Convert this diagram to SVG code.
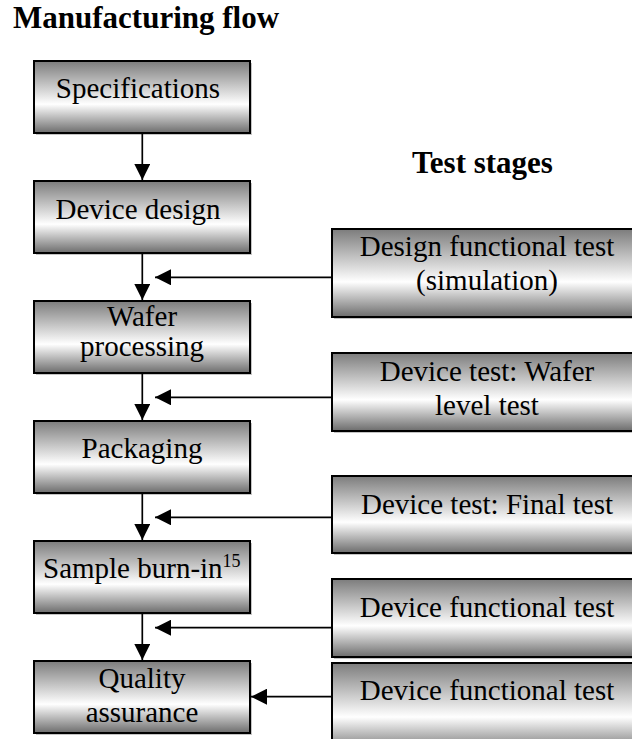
<svg xmlns="http://www.w3.org/2000/svg" width="632" height="739" viewBox="0 0 632 739">
<style>
.box{stroke:#000;stroke-width:2;fill:url(#g)}
.sh{fill:#c4c4c4}
text{font-family:'Liberation Serif','Times New Roman',Times,serif}
.t{font-size:29px;fill:#000;text-anchor:middle}
.h{font-size:31px;font-weight:bold;fill:#000}
.c{stroke:#000;stroke-width:1.7;fill:none;marker-end:url(#ah)}
</style>
<defs>
<linearGradient id="g" x1="0" y1="0" x2="0" y2="1">
<stop offset="0" stop-color="#7c7c7c"/>
<stop offset="0.6" stop-color="#ffffff"/>
<stop offset="1" stop-color="#6c6c6c"/>
</linearGradient>
<marker id="ah" markerUnits="userSpaceOnUse" markerWidth="16" markerHeight="16" viewBox="0 0 15 15" refX="15" refY="7.5" orient="auto">
<path d="M0,0 L15,7.5 L0,15 z" fill="#000"/>
</marker>
</defs>
<text class="h" x="13" y="28">Manufacturing flow</text>
<text class="h" x="412" y="173">Test stages</text>

<g id="specifications">
<rect class="sh" x="36" y="63" width="216" height="72"/>
<rect class="box" x="34" y="61" width="216" height="72"/>
<text class="t" x="138" y="98">Specifications</text>
</g>
<g id="device-design">
<rect class="sh" x="36" y="183" width="216" height="72"/>
<rect class="box" x="34" y="181" width="216" height="72"/>
<text class="t" x="138" y="219">Device design</text>
</g>
<g id="wafer-processing">
<rect class="sh" x="36" y="303" width="216" height="72"/>
<rect class="box" x="34" y="301" width="216" height="72"/>
<text class="t" x="142" y="326">Wafer</text>
<text class="t" x="142" y="356">processing</text>
</g>
<g id="packaging">
<rect class="sh" x="36" y="423" width="216" height="72"/>
<rect class="box" x="34" y="421" width="216" height="72"/>
<text class="t" x="142" y="458">Packaging</text>
</g>
<g id="sample-burn-in">
<rect class="sh" x="36" y="543" width="216" height="72"/>
<rect class="box" x="34" y="541" width="216" height="72"/>
<text class="t" x="43" y="578" style="text-anchor:start">Sample burn-in<tspan dy="-11" font-size="18">15</tspan></text>
</g>
<g id="quality-assurance">
<rect class="sh" x="36" y="663" width="216" height="72"/>
<rect class="box" x="34" y="661" width="216" height="72"/>
<text class="t" x="142" y="688">Quality</text>
<text class="t" x="142" y="722">assurance</text>
</g>

<g id="design-functional-test">
<rect class="sh" x="334" y="231" width="320" height="88"/>
<rect class="box" x="332" y="229" width="320" height="88"/>
<text class="t" x="487" y="256">Design functional test</text>
<text class="t" x="487" y="290">(simulation)</text>
</g>
<g id="wafer-level-test">
<rect class="sh" x="334" y="355" width="320" height="78"/>
<rect class="box" x="332" y="353" width="320" height="78"/>
<text class="t" x="487" y="381">Device test: Wafer</text>
<text class="t" x="487" y="415">level test</text>
</g>
<g id="final-test">
<rect class="sh" x="334" y="478" width="320" height="77"/>
<rect class="box" x="332" y="476" width="320" height="77"/>
<text class="t" x="487" y="514">Device test: Final test</text>
</g>
<g id="device-functional-test-1">
<rect class="sh" x="334" y="581" width="320" height="78"/>
<rect class="box" x="332" y="579" width="320" height="78"/>
<text class="t" x="487" y="617">Device functional test</text>
</g>
<g id="device-functional-test-2">
<rect class="sh" x="334" y="665" width="320" height="90"/>
<rect class="box" x="332" y="663" width="320" height="90"/>
<text class="t" x="487" y="700">Device functional test</text>
</g>

<g id="connectors">
<line class="c" x1="142.3" y1="134" x2="142.3" y2="180"/>
<line class="c" x1="142.3" y1="254" x2="142.3" y2="300"/>
<line class="c" x1="142.3" y1="374" x2="142.3" y2="420"/>
<line class="c" x1="142.3" y1="494" x2="142.3" y2="540"/>
<line class="c" x1="142.3" y1="614" x2="142.3" y2="660"/>
<line class="c" x1="331" y1="277.3" x2="155" y2="277.3"/>
<line class="c" x1="331" y1="397.3" x2="155" y2="397.3"/>
<line class="c" x1="331" y1="517.3" x2="155" y2="517.3"/>
<line class="c" x1="331" y1="627.7" x2="155" y2="627.7"/>
<line class="c" x1="331" y1="696.7" x2="251" y2="696.7"/>
</g>
</svg>
